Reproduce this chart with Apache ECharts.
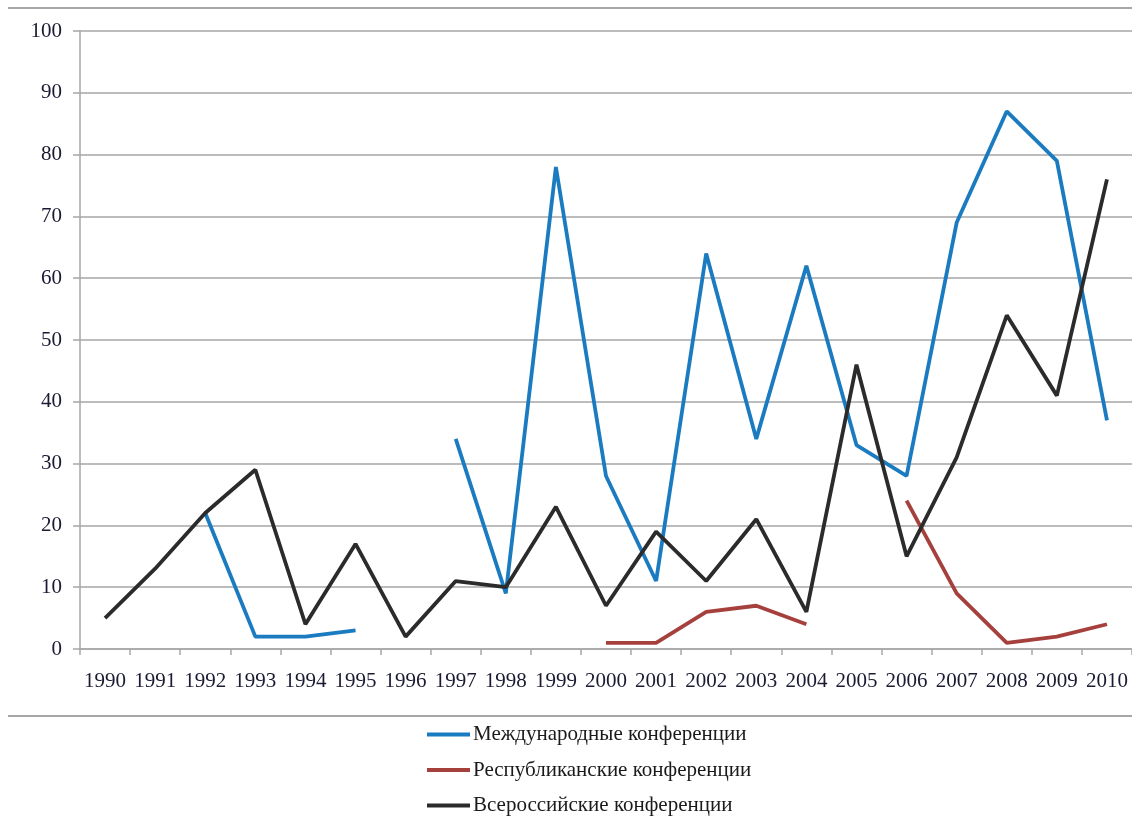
<!DOCTYPE html>
<html>
<head>
<meta charset="utf-8">
<script src="https://cdn.jsdelivr.net/npm/echarts@6/dist/echarts.min.js"></script>
<style>
  html, body { margin: 0; padding: 0; background: #fff; }
  #chart { width: 1132px; height: 816px; }
</style>
</head>
<body>
<div id="chart"></div>
<script>
// годы по оси X
var years = ['1990', '1991', '1992', '1993', '1994', '1995', '1996', '1997', '1998', '1999', '2000',
  '2001', '2002', '2003', '2004', '2005', '2006', '2007', '2008', '2009', '2010'];

// значения рядов (null — нет данных)
var intl = [null, null, 22, 2, 2, 3, null, 34, 9, 78, 28, 11, 64, 34, 62, 33, 28, 69, 87, 79, 37];
var repub = [null, null, null, null, null, null, null, null, null, null, 1, 1, 6, 7, 4, null, 24, 9, 1, 2, 4];
var allRus = [5, 13, 22, 29, 4, 17, 2, 11, 10, 23, 7, 19, 11, 21, 6, 46, 15, 31, 54, 41, 76];

var seriesNames = ['Международные конференции', 'Республиканские конференции', 'Всероссийские конференции'];
var seriesColors = ['#1b7bc0', '#a5403d', '#2b2b2b'];

var chart = echarts.init(document.getElementById('chart'));

var font = 'Liberation Serif';
var gray = '#a6a6a6';

function makeLine(i, data) {
  return {
    name: seriesNames[i],
    type: 'line',
    data: data,
    symbol: 'none',
    connectNulls: false,
    lineStyle: { color: seriesColors[i], width: 3.8 },
    itemStyle: { color: seriesColors[i] }
  };
}

var option = {
  animation: false,
  backgroundColor: '#fff',
  grid: { left: 80, top: 31, width: 1057, height: 618 },
  xAxis: {
    type: 'category',
    data: years,
    boundaryGap: true,
    axisLine: { lineStyle: { color: gray, width: 1.5 } },
    axisTick: { show: true, length: 6, lineStyle: { color: gray, width: 1.5 } },
    axisLabel: { color: '#1a1a33', fontFamily: font, fontSize: 21, margin: 22, interval: 0 },
    splitLine: { show: false }
  },
  yAxis: {
    type: 'value',
    min: 0,
    max: 100,
    interval: 10,
    axisLine: { show: true, lineStyle: { color: gray, width: 1.5 } },
    axisTick: { show: true, length: 7, lineStyle: { color: gray, width: 1.5 } },
    axisLabel: { color: '#1a1a33', fontFamily: font, fontSize: 21, margin: 18 },
    splitLine: { show: true, lineStyle: { color: gray, width: 1.5 } }
  },
  legend: {
    orient: 'vertical',
    left: 427,
    top: 724,
    height: 200,
    padding: 0,
    icon: 'rect',
    itemWidth: 43,
    itemHeight: 4,
    itemGap: 14.5,
    textStyle: { color: '#1a1a1a', fontFamily: font, fontSize: 21, padding: [0, 0, 0, -2] },
    data: seriesNames
  },
  graphic: [
    { type: 'line', shape: { x1: 8, y1: 8, x2: 1132, y2: 8 }, style: { stroke: gray, lineWidth: 2 } },
    { type: 'line', shape: { x1: 8, y1: 716, x2: 1132, y2: 716 }, style: { stroke: gray, lineWidth: 2 } }
  ],
  series: [
    makeLine(0, intl),
    makeLine(1, repub),
    makeLine(2, allRus)
  ]
};

chart.setOption(option);
</script>
</body>
</html>
